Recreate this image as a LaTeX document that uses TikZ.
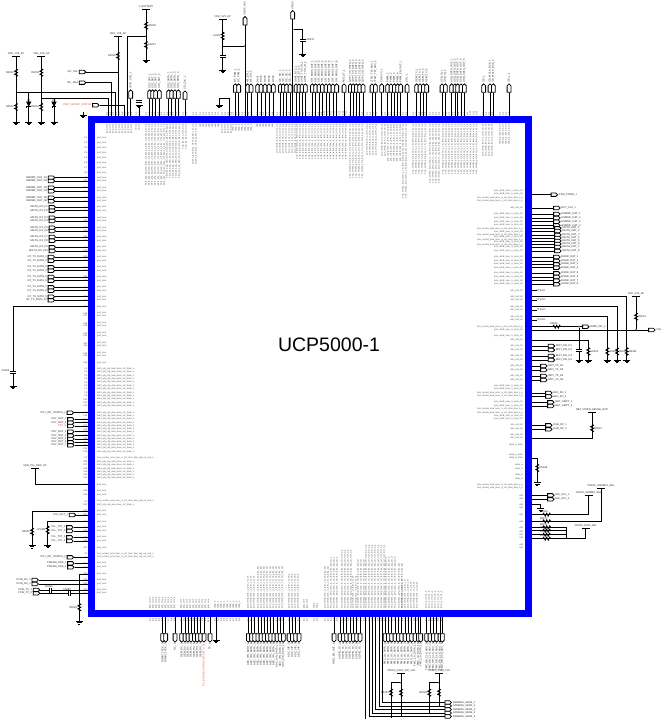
\documentclass[tikz,border=0pt]{standalone}
\usepackage{fontspec}
\setmainfont{Liberation Sans}
\usetikzlibrary{shapes.symbols}
\definecolor{chipblue}{RGB}{0,0,255}
\definecolor{netred}{RGB}{240,70,70}
\begin{document}
\catcode`\_=12
\begin{tikzpicture}[x=1pt,y=-1pt,
    wire/.style={line width=0.8pt},
    chip/.style={rectangle, draw=chipblue, line width=7pt, inner sep=0pt, outer sep=0pt, minimum width=437pt, minimum height=494pt},
    portE/.style={signal, signal to=east, draw, fill=white, line width=0.8pt, inner sep=0pt, minimum width=6.5pt, minimum height=3.4pt},
    portN/.style={signal, signal to=north, draw, fill=white, line width=0.8pt, inner sep=0pt, minimum width=3.8pt, minimum height=6.5pt},
    portS/.style={signal, signal to=south, draw, fill=white, line width=0.8pt, inner sep=0pt, minimum width=3.8pt, minimum height=6.5pt},
    portlab/.style={font=\fontsize{2.6}{3}\selectfont, inner sep=0.6pt, text=black!85},
    pinlab/.style={font=\fontsize{2.2}{3}\selectfont, inner sep=0pt, text=black!70},
    pinnum/.style={font=\fontsize{2.2}{3}\selectfont, inner sep=0pt, text=black!75},
    pwr/.style={rectangle, fill=black, inner sep=0pt, minimum width=8pt, minimum height=0.9pt, label distance=0.3pt},
    dot/.style={circle, fill=black, inner sep=0pt, minimum size=1.8pt},
    pics/resv/.style={code={\draw[line width=0.8pt] (0,-4)--(1.5,-3)--(-1.5,-1.5)--(1.5,0)--(-1.5,1.5)--(1.5,3)--(0,4);
      \node[portlab,left] (-lab) at (-1.5,0) {#1};}},
    pics/resw/.style={code={\draw[line width=0.8pt] (0,-4)--(1.5,-3)--(-1.5,-1.5)--(1.5,0)--(-1.5,1.5)--(1.5,3)--(0,4);
      \node[portlab,right] (-lab) at (1.5,0) {#1};}},
    pics/resh/.style={code={\draw[line width=0.8pt] (-4,0)--(-3,-1.5)--(-1.5,1.5)--(0,-1.5)--(1.5,1.5)--(3,-1.5)--(4,0);
      \node[portlab,above] (-lab) at (-3,-1) {#1};}},
    pics/gnd/.style={code={\draw[line width=0.8pt] (-3.5,0)--(3.5,0) (-2.2,1.2)--(2.2,1.2) (-1,2.4)--(1,2.4);}},
    pics/capv/.style={code={\fill[white] (-3,-1) rectangle (3,1); \draw[line width=0.9pt] (-3,-1)--(3,-1) (-3,1)--(3,1);
      \node[portlab,right] (-lab) at (3,0) {#1};}},
    pics/caph/.style={code={\fill[white] (-1,-2.5) rectangle (1,2.5); \draw[line width=0.9pt] (-1,-2.5)--(-1,2.5) (1,-2.5)--(1,2.5);
      \node[portlab,above] (-lab) at (-2,-2) {#1};}},
    pics/esd/.style={code={\draw[line width=0.8pt,fill=black] (-2,-3)--(2,-3)--(0,1)--cycle; \draw[line width=0.8pt] (-2,1)--(2,1) (-2,1)--(-2,3);
      \node[portlab,above] (-lab) at (0,-3) {#1};}}]
 \useasboundingbox (0,0) rectangle (663,719);

 % names inside the chip, top and bottom edge
 \foreach \a/\b/\txt [count=\g] in {107/132/gnd_core,136/140/vdd_a,146/165/ddr3_phy_dq_slew_drive_ctrl_bank_a_bias_vref_adj_trim_n_p,
    167/182/ddr3_phy_dq_slew_drive_ctrl_bank_b_bias_vref_adj_p,183/187/hsio_ldo_bias_vref_ctrl_p,193/193/serdes_lane_bias_vref_adj_trim_ctrl_n_p,
    200/220/vdd,222/233/gnd_core,233/253/vddq_io,257/273/vdd,277/297/pcie_refclk_lane_rx_ctrl_n3_p,297/347/pcie_refclk_lane_rx_term_ctrl_n3_p,
    350/363/hsio_serdes_pma_lane_rx_ctrl_term_bias_adj_sel_n_p,367/377/pcie_refclk_lane_rx_term_ctrl_p,382/382/pcie_refclk_lane_rx_term_ctrl_n3,
    388/402/pcie_refclk_lane_rx_term_ctrl_n3_bias,403/408/hsio_serdes_pma_lane_rx_ctrl_term_bias_adj_sel_vref_trim_drive_ctrl_n_p,
    413/427/hsio_serdes_pma_lane_rx_ctrl_term_bias_adj_n_p,430/440/hsio_serdes_pma_lane_rx_ctrl_term_bias_adj_sel_trim_n_p,
    443/477/hsio_serdes_pma_lane_rx_ctrl_term_bias_adj_n_p,483/493/pcie_refclk_lane_rx_term_ctrl_n3,500/510/vddq_io_bank_a_ctrl}{
   \pgfmathsetmacro\ab{\a+3.05}
   \foreach \x [count=\k] in {\a,\ab,...,\b}{
     \node[pinlab,rotate=90,anchor=east] (ti\g-\k) at (\x,124) {\txt};
     \node[pinnum,rotate=90,anchor=west] (tn\g-\k) at (\x,115.5) {A\k};
   }
 }
 \foreach \a/\b/\txt [count=\g] in {150/175/gnd_core_a,181/210/gnd_core,215/240/vddq_a,248/256/pcie_refclk_lane_rx_term_ctrl_n3,258/285/pcie_refclk_lane_rx_term_ctrl_n3_bias_adj,
    289/300/pcie_refclk_lane_rx_term_ctrl_n3_b,304/308/gnd_core,314/316/vdd_a,325/330/pcie_refclk_lane_rx_term_ctrl_n3_bias_adj,
    331/340/hsio_serdes_pma_lane_rx_ctrl_term_bias_adj_sel_n,342/352/hsio_serdes_pma_lane_rx_ctrl_term_bias_adj_sel_vref_n_p,
    353/356/pcie_refclk_lane_rx_term_ctrl_n3,358/365/hsio_serdes_pma_lane_rx_ctrl_term_bias_adj_sel,
    366/385/hsio_serdes_pma_lane_rx_ctrl_term_bias_adj_sel_vref_trim_n_p,386/398/hsio_serdes_pma_lane_rx_ctrl_term_bias_adj_sel_vr,
    399/401/hsio_serdes_pma_lane_rx_ctrl_term_bias_adj,402/410/pcie_refclk_lane_rx_term_ctrl,411/420/pcie_refclk_lane_rx_ctrl_n3,426/442/pcie_rx_ctrl_n3_p}{
   \pgfmathsetmacro\ab{\a+3.05}
   \foreach \x [count=\k] in {\a,\ab,...,\b}{
     \node[pinlab,rotate=90,anchor=west] (bi\g-\k) at (\x,609) {\txt};
     \node[pinnum,rotate=90,anchor=east] (bn\g-\k) at (\x,618.5) {B\k};
   }
 }

 % names inside the chip, left and right edge
 \foreach \txt/\ylist [count=\g] in {gnd_core/{138,143,148,153,158,163,168,173,177.7,181,187.7,191.3,197.7,201.3,207.3,210.7,217.7,221,227.7,231,237,240.7,247.3,251,257,260.7,267.3,270.7,277,280.7,287.3,290.7,296.7,300.3,306.7,313.3,316,323.3,326,333.3,336,343.3,346,353.3,356,362.7,484.7,491,495,511,515,521.7,527.3,531,537.3,541,548,563.3,567.3,574,580,584,590,593.3},
    ddr3_phy_dq_slew_drive_ctrl_bank_n/{368.7,372.1,375.5,378.9,382.3,385.7,389.1,392.5,395.9,399.3,402.7,406,412.7,416,419.3,422.7,426,429.3,431.7,435.7,439,442.3,445.3,448.3,451.7,462,465,468.7,471.7,475,478,505},
    hsio_serdes_pma_lane_rx_ctrl_term_bias_adj_sel_vref_n/{458,501.3,554,557.3}}{
   \foreach \y [count=\k] in \ylist{
     \node[pinlab,anchor=west] (li\g-\k) at (97,\y) {\txt};
     \node[pinnum,anchor=east] (ln\g-\k) at (87.5,\y) {C\k};
   }
 }
 \foreach \txt/\ylist [count=\g] in {ddr_vref_ctrl/{208,290.7,296.7,300,306.7,310,316.7,320,340,346,350,356,360,366,370,376,380,425.3,429.3,435.3,438},
    pcie_refclk_lane_rx_term_ctrl/{191,193.7,214,218,221.7,225.3,232,237,242,247,251,257,261,264.3,267.7,273.3,277,280.7,284.3,386,389.3,402.3,406,416,419.3,330,336},
    hsio_serdes_pma_lane_rx_ctrl_term_bias_n_p/{197.7,201,228.5,234.5,239.5,244.5,326.7,393.3,396,409.3,412.7,485.3,488.3},
    vddq_io_bank/{445.3,455.3,458},vddq_io/{465.3,468.7,475.3,478.7},vdd/{495.3,498.7,504.3,507.7,514.7,521.3,528,531.3,534.7,538,544.7,548}}{
   \foreach \y [count=\k] in \ylist{
     \node[pinlab,anchor=east] (ri\g-\k) at (523,\y) {\txt};
   }
 }

 % ports on the top edge
 \foreach \py/\txt/\xlist [count=\g] in {95/SD1_DAT_/{149.7,152.7,155.7,159.3},95/SD2_DATA_/{168.7,171.7,175,178.3},96/SD_CLK_/{185},95/GPIO_CFG_/{130.7},
    89/BT_PCM_/{235.3,238.7},89/WL_EN_/{247.7,251},89/RSV/{257.7,261,265,269,273.3},89/I2C_SD_/{280.3,283.3,286.7,290},89/UART_RTS_/{296,299},
    89/UART_TXD_IN_/{302,305.3},89/SPI_MOSI_DAT_/{312.3,315.7,319,322.3,326,329.3,333,336.7},89/MIO_ST_/{344},89/QSPI_CS_DATA_/{350.3,353.3,356.3,359.7,363},
    89/JTAG_TDI_AUX_/{372,375.3},89/CAN_TX_/{381.7},89/PWM_/{387.7,391,394.3,397.7},89/PWM_EN_OUT_/{400.7},89/SYS_/{407},89/GEM_TX_/{416.7,420,423.3,426.7},
    89/USB_ID_/{442,445.3},89/USB_DATA_OUT_/{451.7,455,457.7,461,464.3},89/I2S_/{483.7},89/I2S_MCLK_BCK_/{490,493.3},89/I2S_L_/{509}}{
   \foreach \x [count=\k] in \xlist{
     \node[portN] (tp\g-\k) at (\x,\py) {};
     \coordinate (tc\g-\k) at (\x,116);
     \draw[wire] (tp\g-\k.south) -- (tc\g-\k);
     \node[portlab,rotate=90,anchor=west] (tl\g-\k) at (tp\g-\k.north) {\txt\k};
   }
 }

 % ports on the bottom edge
 \foreach \txt/\xlist [count=\g] in {RGMII_TXCK_/{162.7,165.7},NC_/{175},GEM_RX_/{181.7,185,188,191,194.3,197.3,200.7},TP_/{210},
    ADC_VIN_DATA_/{248.3,251.5,254.7,257.9,261,264.2,267.4,270.6,273.8,277,280.2,283.3},ADC_VIP_/{289,292.3,295.7,299},HSIO_EN_OUT_/{334},
    SGPIO_TX_/{340,343.3,346.7,350,353.3,356.7,360},FMC_LA_DATA_/{385,388.3,391.7,395,398.3,401.7,405,408.3,411.7,415,418.3,420.7},
    FMC_HB_CLK_AUX_/{426.7,430,433.3,436.7,440,442.3}}{
   \foreach \x [count=\k] in \xlist{
     \node[portS] (bp\g-\k) at (\x,637) {};
     \coordinate (bc\g-\k) at (\x,617);
     \draw[wire] (bc\g-\k) -- (bp\g-\k.north);
     \node[portlab,rotate=90,anchor=east] (bl\g-\k) at (bp\g-\k.south) {\txt\k};
   }
 }
 \node[portS] (bpr) at (204,637) {};
 \coordinate (bcr) at (204,617);
 \draw[wire] (bcr) -- (bpr.north);
 \node[portlab,rotate=90,anchor=east,text=netred] (blr) at (bpr.south) {PS_ERROR_STATUS_RESET_OUT};
 \coordinate (bcg) at (216,617);
 \coordinate (bgg) at (216,640);
 \draw[wire] (bcg) -- (bgg);
 \pic at (bgg) {gnd};

 % ports on the left edge
 \foreach \px/\txt/\ylist [count=\g] in {50.7/HSMMC_DAT_D/{177.7,181,187.7,191.3,197.7,201.3},51.5/MGTH_RX_P/{207.3,210.7,217.7,221,227.7,231,237,240.7,247.3,251},50.5/GT_TX_DATA_/{257,260.7,267.3,270.7,277,280.7,287.3,290.7,296.7,300.3},
    69.5/PHY_INT_STATUS_/{412.7,557.3},70/PHY_RST_/{419.3,422.7,431.7,435.7,439,442.3,445.3},71.7/CLK_OUT_/{515},
    69/PLL_TST_/{527.3,531,537.3,541},70/PSRAM_DQS_/{563.3,567.3},34.3/PCIE_RX_/{580,584}}{
   \foreach \y [count=\k] in \ylist{
     \node[portE] (lp\g-\k) at (\px,\y) {};
     \coordinate (lc\g-\k) at (88,\y);
     \draw[wire] (lp\g-\k.east) -- (lc\g-\k);
     \node[portlab,left] (ll\g-\k) at (lp\g-\k.west) {\txt\k};
   }
 }
 \node[portE] (lpr) at (70,426) {};
 \coordinate (lcr) at (88,426);
 \draw[wire] (lpr.east) -- (lcr);
 \node[portlab,left,text=netred] (llr) at (lpr.west) {RST_N};

 % ports on the right edge
 \foreach \px/\txt/\ylist [count=\g] in {553.5/CAM_PDWN_/{194.7},556/EXT_CLK_/{208},556/HSMMC_DAT_/{214,218,221.7,225.5},557/MGTH_DAT_/{228.3,231,235,238,241,244,247,251},
    556/RGMII_DAT_/{257,261,264.3,267.7,273.3,277,280.7,284.3},585/HDMI_INT_/{326.7},550.7/MIPI_DSI_D/{346,350,356,360},543/MIPI_TX_D/{366,370,376,380},
    548/MIO_SD_/{393,396.5},550/NET_SMPT_/{402.3,406},548/USB_DP_/{425.3,429.3},550/HDI_SCL_/{495.3,499.3}}{
   \foreach \y [count=\k] in \ylist{
     \node[portE] (rp\g-\k) at (\px,\y) {};
     \coordinate (rc\g-\k) at (532,\y);
     \ifnum\g=6\else\draw[wire] (rc\g-\k) -- (rp\g-\k.west);\fi
     \node[portlab,right] (rl\g-\k) at (rp\g-\k.east) {\txt\k};
   }
 }
 \foreach \y [count=\k] in {290.7,300,310,320}{
   \node[pinnum,anchor=west,font=\fontsize{2.5}{3}\selectfont] (tp\k) at (536.5,\y) {TP506\k};
   \coordinate (tq\k) at (532,\y);
   \draw[wire] (tq\k) -- (tp\k.west);
 }

 % supply and pull resistors, top left
 \node[pwr,label={[portlab]above:VDD_1V8_AP}] (vA) at (16,56) {};
 \coordinate (gA) at (16,122);
 \draw[wire] (vA) -- (gA);
 \pic at (16,72.7) {resv=R5051};
 \pic at (16,107) {resv=R5052};
 \pic at (gA) {gnd};
 \node[pwr,label={[portlab]above:VDD_1V8_AP}] (vB) at (41.3,56) {};
 \coordinate (gB) at (41.3,122);
 \draw[wire] (vB) -- (gB);
 \pic at (41.3,72.7) {resv=R5053};
 \pic at (41.3,107) {resv=R5054};
 \pic at (gB) {gnd};
 \coordinate (jA) at (16,92);
 \coordinate (tA) at (115,116);
 \draw[wire] (jA) -| (tA);
 \coordinate (jB) at (41.3,98.7);
 \coordinate (tB) at (108.7,116);
 \draw[wire] (jB) -| (tB);
 \coordinate (dA) at (28.7,92);
 \coordinate (gC) at (28.7,122);
 \draw[wire] (dA) -- (gC);
 \pic at (28.7,105) {esd=D5};
 \pic at (gC) {gnd};
 \coordinate (dB) at (54,98.7);
 \coordinate (gD) at (54,122);
 \draw[wire] (dB) -- (gD);
 \pic at (54,105) {esd=D6};
 \pic at (gD) {gnd};
 \node[pwr,label={[portlab]above:VDD_1V8_AP}] (vC) at (118,36) {};
 \coordinate (tC) at (118,116);
 \draw[wire] (vC) -- (tC);
 \pic at (118,56) {resv=R5055};
 \node[portE] (pSck) at (81.7,72) {};
 \node[portlab,left] (lSck) at (pSck.west) {I2C_SCL};
 \coordinate (jSck) at (118,72);
 \draw[wire] (pSck.east) -- (jSck);
 \node[portE] (pSda) at (81.7,82.7) {};
 \node[portlab,left] (lSda) at (pSda.west) {I2C_SDA};
 \coordinate (tSda) at (111,116);
 \draw[wire] (pSda.east) -| (tSda);
 \node[portE] (pRed) at (95,105.3) {};
 \node[portlab,left,text=netred] (lRed) at (pRed.west) {PMIC_RESET_STATUS};
 \coordinate (tRed) at (124.7,116);
 \draw[wire] (pRed.east) -| (tRed);
 \coordinate (gE) at (83,115);
 \coordinate (tE) at (83,112);
 \draw[wire] (tE) -- (gE);
 \pic at (gE) {gnd};
 \node[pwr,label={[portlab]above:V_BATTERY}] (vD) at (146,9.7) {};
 \coordinate (gF) at (146,60);
 \draw[wire] (vD) -- (gF);
 \pic at (146,25.7) {resw=R5056};
 \pic at (146,45) {resw=R5057};
 \pic at (gF) {gnd};
 \node[dot] (jF) at (146,36.3) {};
 \coordinate (tF) at (127.7,116);
 \draw[wire] (jF) -| (tF);
 \coordinate (tG) at (139,116);
 \coordinate (gG) at (139,105.5);
 \draw[wire] (tG) -- (gG);
 \pic at (139,101) {capv=};
 \pic at (gG) {gnd};

 % supply and caps over the top edge
 \coordinate (tH) at (229.3,116);
 \coordinate (gH) at (219.3,105);
 \draw[wire] (tH) |- (219.3,98.3) -- (gH);
 \pic at (gH) {gnd};
 \node[pwr,label={[portlab]above:VDD_3V3_AP}] (vI) at (222.7,19) {};
 \coordinate (gI) at (222.7,70);
 \draw[wire] (vI) -- (gI);
 \pic at (222.7,36) {resv=L5001};
 \pic at (222.7,56.7) {capv=};
 \pic at (gI) {gnd};
 \node[portN] (pJ) at (245,21.7) {};
 \node[portlab,rotate=90,anchor=west] (lJ) at (pJ.north) {VREF_0V9};
 \coordinate (tJ) at (245,116);
 \draw[wire] (pJ.south) -- (tJ);
 \node[dot] (jJ) at (245,46) {};
 \coordinate (jI) at (222.7,46);
 \draw[wire] (jI) -- (jJ);
 \node[portN] (pK) at (292.7,15.7) {};
 \node[portlab,rotate=90,anchor=west] (lK) at (pK.north) {VREF_1V2_D};
 \coordinate (tK) at (292.7,116);
 \draw[wire] (pK.south) -- (tK);
 \node[dot] (jK) at (292.7,29.3) {};
 \coordinate (gK) at (302.7,54);
 \draw[wire] (jK) -| (gK);
 \pic at (302.7,40) {capv=C5076};
 \pic at (gK) {gnd};

 % right edge, supply branches
 \node[pwr,label={[portlab]above:VDD_3V3_AP}] (vL) at (636,296) {};
 \node[portE] (pOut) at (651,330) {};
 \node[portlab,right] (lOut) at (pOut.east) {VOL};
 \coordinate (rOut) at (532,330);
 \draw[wire] (rOut) -- (pOut.west);
 \node[dot] (jOut) at (636,330) {};
 \draw[wire] (vL) -- (jOut);
 \pic at (636,316.7) {resw=R5061};
 \foreach \y/\x [count=\k] in {296.7/626.7,306.7/617,316.7/607.3,340/588.3}{
   \coordinate (rs\k) at (532,\y);
   \coordinate (gs\k) at (\x,360);
   \draw[wire] (rs\k) -| (gs\k);
   \pic at (\x,351.5) {resw=R506\k};
   \pic at (gs\k) {gnd};
 }
 \coordinate (rM) at (532,326.7);
 \node[dot] (jM) at (579,326.7) {};
 \draw[wire] (rM) -- (jM) -- (rp6-1.west);
 \pic at (556.7,326.7) {resh=R5065};
 \coordinate (gM) at (579,360);
 \draw[wire] (jM) -- (gM);
 \pic at (579,350) {capv=};
 \pic at (gM) {gnd};
 \node[pwr,label={[portlab]above:NET_VIDEO_SENSE_HPD}] (vN) at (592,412.7) {};
 \coordinate (rN) at (532,438.7);
 \draw[wire] (rN) -| (vN);
 \pic at (592,428.3) {resw=R5067};
 \coordinate (rO) at (532,458.3);
 \coordinate (gO) at (537.3,482.7);
 \draw[wire] (rO) -| (gO);
 \pic at (537.3,468) {resw=R5068};
 \pic at (gO) {gnd};
 \coordinate (rP) at (532,504.3);
 \coordinate (gP) at (540.7,508.7);
 \draw[wire] (rP) -| (gP);
 \pic at (gP) {gnd};
 \node[pwr,label={[portlab]above:VDDIO_SDMMC_SEL}] (vQ) at (588.7,495) {};
 \coordinate (rQ) at (532,514.7);
 \draw[wire] (rQ) -| (vQ);
 \pic at (546.7,514.7) {resh=R5069};
 \node[pwr,label={[portlab]above:VDDIO_SDMMC1_SEL}] (vR) at (601,488.3) {};
 \coordinate (rR) at (532,521.3);
 \draw[wire] (rR) -| (vR);
 \pic at (546.7,521.3) {resh=R5070};
 \node[pwr,label={[portlab]above:VDDIO_SDIO_SEL}] (vS) at (585.7,528.3) {};
 \coordinate (jS) at (566.7,538.7);
 \draw[wire] (jS) -| (vS);
 \coordinate (jT) at (566.7,527.3);
 \draw[wire] (jT) -- (jS);
 \foreach \y [count=\k] in {527.3,530.7,534.7,538.7}{
   \coordinate (rt\k) at (532,\y);
   \coordinate (jt\k) at (566.7,\y);
   \draw[wire] (rt\k) -- (jt\k);
   \pic at (546.7,\y) {resh=R507\k};
 }

 % left edge, branches
 \coordinate (lU) at (88,306.7);
 \coordinate (gU) at (13,386);
 \draw[wire] (lU) -| (gU);
 \pic at (13,372) {capv=};
 \node[portlab,left] (lUc) at (10,371) {C5080};
 \pic at (gU) {gnd};
 \node[pwr,label={[portlab]above:VDD_PLL_REF_AP}] (vV) at (35,468.3) {};
 \coordinate (lV) at (88,484.7);
 \draw[wire] (lV) -| (vV);
 \coordinate (lW) at (88,511);
 \coordinate (gW) at (32,545.5);
 \draw[wire] (lW) -| (gW);
 \pic at (32,531.7) {resv=R5081};
 \pic at (gW) {gnd};
 \coordinate (lX) at (88,521.7);
 \coordinate (gX) at (47.7,545);
 \draw[wire] (lX) -| (gX);
 \pic at (47.7,530) {resv=R5082};
 \pic at (gX) {gnd};
 \coordinate (lY) at (88,574);
 \coordinate (gY) at (79.3,621.5);
 \draw[wire] (lY) -| (gY);
 \pic at (79.3,607.3) {resv=R5083};
 \pic at (gY) {gnd};
 \node[portE] (pZa) at (35.7,590) {};
 \node[portlab,left] (lZa) at (pZa.west) {PCIE_TX_1};
 \coordinate (cZa) at (88,590);
 \draw[wire] (pZa.east) -- (cZa);
 \pic at (50.7,590) {caph=C5084};
 \node[portE] (pZb) at (35.7,593.3) {};
 \node[portlab,left] (lZb) at (pZb.west) {PCIE_TX_2};
 \coordinate (cZb) at (88,593.3);
 \draw[wire] (pZb.east) -- (cZb);
 \pic at (69,593.3) {caph=C5085};

 % bus under the bottom edge
 \foreach \x/\y [count=\k] in {382.3/702.5,379/706,375.7/709.5,372.3/713,369/716.5}{
   \coordinate (bs\k) at (\x,617);
   \node[portE] (bq\k) at (447.3,\y) {};
   \node[portlab,right] (br\k) at (bq\k.east) {CAMERA_SENS_\k};
   \draw[wire] (bs\k) |- (bq\k.west);
 }
 \coordinate (bs6) at (365.7,617);
 \coordinate (be6) at (365.7,719);
 \draw[wire] (bs6) -- (be6);
 \foreach \x/\xx/\ya/\yb/\nm [count=\k] in {391/401/718/716/VDDIO_GPIO_SW_1V8,429.3/439/713/707/VDDIO_CAM_1V8}{
   \node[pwr,label={[portlab]above:\nm}] (vb\k) at (\xx,673.3) {};
   \node[dot] (jb\k) at (\xx,682.7) {};
   \coordinate (ea\k) at (\x,\ya);
   \coordinate (eb\k) at (\xx,\yb);
   \draw[wire] (vb\k) -- (eb\k);
   \draw[wire] (jb\k) -| (ea\k);
   \pic at (\x,692.7) {resv=R509\k};
   \pic at (\xx,692.7) {resw={}};
 }

 % chip outline and title
 \node[chip] (ucp) at (310,366.5) {};
 \node[font=\fontsize{19.5}{22}\selectfont] (title) at (329,345) {UCP5000-1};
\end{tikzpicture}
\end{document}
